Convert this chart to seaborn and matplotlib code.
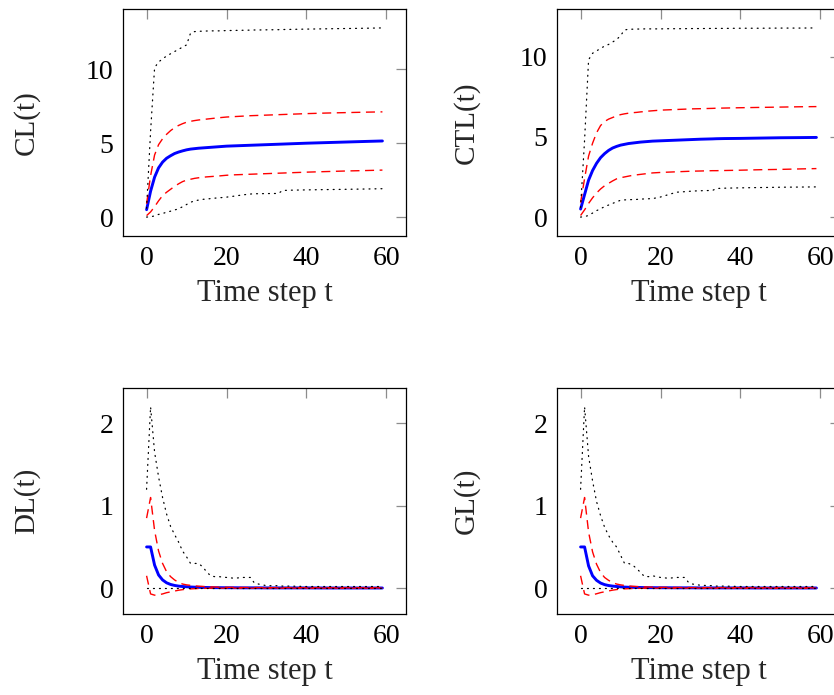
import matplotlib
matplotlib.use("Agg")
import matplotlib.pyplot as plt
import seaborn as sns
import numpy as np
import pandas as pd

# ---------------- data ----------------
TIME = [0, 1, 2, 3, 4, 5, 6, 7, 8, 9, 10, 11, 12, 13, 14, 15, 16, 17, 18,
        20, 22, 24, 26, 27, 28, 30, 33, 34, 36, 40, 45, 50, 55, 59]

cl_mean = [0.5, 1.75, 2.7, 3.33, 3.72, 3.98, 4.15, 4.3, 4.4, 4.48, 4.55, 4.6, 4.63, 4.66,
           4.68, 4.7, 4.72, 4.74, 4.76, 4.8, 4.82, 4.84, 4.86, 4.87, 4.88, 4.9, 4.93, 4.94,
           4.96, 5.0, 5.04, 5.08, 5.12, 5.15]
cl_hi = [0.9, 2.8, 4.2, 4.9, 5.3, 5.6, 5.85, 6.05, 6.2, 6.32, 6.42, 6.48, 6.53, 6.57, 6.6,
         6.63, 6.66, 6.69, 6.72, 6.77, 6.8, 6.83, 6.86, 6.87, 6.88, 6.9, 6.93, 6.94, 6.96,
         7.0, 7.04, 7.07, 7.1, 7.12]
cl_lo = [0.1, 0.35, 0.7, 1.1, 1.45, 1.68, 1.88, 2.08, 2.25, 2.4, 2.5, 2.56, 2.62, 2.66, 2.69,
         2.72, 2.74, 2.76, 2.78, 2.83, 2.86, 2.88, 2.9, 2.91, 2.92, 2.94, 2.97, 2.98, 3.0,
         3.04, 3.08, 3.12, 3.15, 3.18]
cl_max = [0.6, 5.8, 10.1, 10.5, 10.7, 10.9, 11.05, 11.2, 11.35, 11.5, 11.65, 12.45, 12.55,
          12.57, 12.58, 12.59, 12.6, 12.6, 12.6, 12.62, 12.63, 12.64, 12.65, 12.66, 12.66,
          12.67, 12.68, 12.69, 12.7, 12.72, 12.74, 12.76, 12.78, 12.8]
cl_min = [0.0, 0.02, 0.08, 0.18, 0.25, 0.32, 0.4, 0.48, 0.56, 0.7, 0.85, 1.0, 1.1, 1.15, 1.2,
          1.22, 1.25, 1.28, 1.3, 1.35, 1.42, 1.5, 1.56, 1.58, 1.58, 1.59, 1.6, 1.8, 1.82,
          1.84, 1.86, 1.88, 1.9, 1.92]

ctl_mean = [0.5, 1.4, 2.3, 2.9, 3.35, 3.7, 3.95, 4.15, 4.3, 4.4, 4.48, 4.53, 4.58, 4.61, 4.64,
            4.67, 4.69, 4.71, 4.73, 4.75, 4.77, 4.79, 4.81, 4.82, 4.83, 4.85, 4.87, 4.88,
            4.89, 4.9, 4.92, 4.94, 4.95, 4.96]
ctl_hi = [0.9, 2.4, 3.8, 4.6, 5.25, 5.7, 5.95, 6.1, 6.2, 6.3, 6.38, 6.43, 6.47, 6.5, 6.52,
          6.55, 6.57, 6.6, 6.62, 6.66, 6.68, 6.7, 6.72, 6.73, 6.74, 6.75, 6.77, 6.78, 6.79,
          6.81, 6.83, 6.85, 6.87, 6.88]
ctl_lo = [0.1, 0.45, 0.85, 1.2, 1.5, 1.75, 1.95, 2.1, 2.25, 2.38, 2.45, 2.5, 2.55, 2.6, 2.63,
          2.66, 2.69, 2.72, 2.75, 2.78, 2.8, 2.82, 2.84, 2.85, 2.86, 2.87, 2.89, 2.89, 2.9,
          2.92, 2.95, 2.97, 3.0, 3.02]
ctl_max = [0.6, 4.8, 9.8, 10.2, 10.35, 10.5, 10.65, 10.75, 10.9, 11.05, 11.3, 11.65, 11.7,
           11.7, 11.71, 11.71, 11.72, 11.72, 11.72, 11.72, 11.73, 11.73, 11.73, 11.74, 11.74,
           11.74, 11.75, 11.75, 11.75, 11.76, 11.76, 11.77, 11.77, 11.78]
ctl_min = [0.0, 0.03, 0.1, 0.25, 0.4, 0.52, 0.65, 0.75, 0.85, 0.95, 1.05, 1.07, 1.08, 1.09,
           1.1, 1.12, 1.13, 1.14, 1.15, 1.25, 1.4, 1.55, 1.58, 1.6, 1.62, 1.64, 1.66, 1.78,
           1.8, 1.82, 1.84, 1.86, 1.87, 1.88]

dl_mean = [0.5, 0.5, 0.28, 0.16, 0.1, 0.065, 0.045, 0.033, 0.025, 0.02, 0.017, 0.014, 0.012,
           0.01, 0.009, 0.008, 0.007, 0.006, 0.006, 0.005, 0.005, 0.004, 0.004, 0.004, 0.004,
           0.003, 0.003, 0.003, 0.003, 0.003, 0.002, 0.002, 0.002, 0.002]
dl_hi = [0.85, 1.1, 0.7, 0.45, 0.3, 0.2, 0.14, 0.1, 0.07, 0.05, 0.04, 0.034, 0.028, 0.024,
         0.021, 0.018, 0.016, 0.014, 0.012, 0.01, 0.009, 0.008, 0.007, 0.007, 0.006, 0.006,
         0.005, 0.005, 0.005, 0.005, 0.004, 0.004, 0.004, 0.004]
dl_lo = [0.15, -0.07, -0.085, -0.08, -0.07, -0.055, -0.045, -0.035, -0.025, -0.018, -0.012,
         -0.009, -0.006, -0.004, -0.003, -0.002, -0.001, -0.001, 0.0, 0.0, 0.0, 0.0, 0.0, 0.0,
         0.0, 0.0, 0.0, 0.0, 0.0, 0.0, 0.0, 0.0, 0.0, 0.0]
dl_max = [1.2, 2.2, 1.65, 1.35, 1.1, 0.9, 0.75, 0.65, 0.56, 0.45, 0.38, 0.3, 0.3, 0.3, 0.26,
          0.2, 0.15, 0.14, 0.14, 0.13, 0.12, 0.13, 0.13, 0.06, 0.05, 0.03, 0.03, 0.025, 0.025,
          0.02, 0.02, 0.02, 0.02, 0.02]
dl_min = [0.0] * len(TIME)

gl_mean = [0.5, 0.5, 0.27, 0.15, 0.095, 0.062, 0.043, 0.032, 0.025, 0.02, 0.016, 0.013,
           0.011, 0.01, 0.009, 0.008, 0.007, 0.006, 0.006, 0.005, 0.005, 0.004, 0.004, 0.004,
           0.004, 0.003, 0.003, 0.003, 0.003, 0.003, 0.002, 0.002, 0.002, 0.002]
gl_hi = [0.85, 1.1, 0.68, 0.44, 0.29, 0.19, 0.13, 0.095, 0.068, 0.05, 0.04, 0.033, 0.027,
         0.023, 0.02, 0.018, 0.016, 0.014, 0.012, 0.01, 0.009, 0.008, 0.007, 0.007, 0.006,
         0.006, 0.005, 0.005, 0.005, 0.005, 0.004, 0.004, 0.004, 0.004]
gl_lo = [0.15, -0.07, -0.085, -0.08, -0.068, -0.054, -0.044, -0.034, -0.024, -0.017, -0.011,
         -0.008, -0.006, -0.004, -0.003, -0.002, -0.001, -0.001, 0.0, 0.0, 0.0, 0.0, 0.0, 0.0,
         0.0, 0.0, 0.0, 0.0, 0.0, 0.0, 0.0, 0.0, 0.0, 0.0]
gl_max = [1.2, 2.2, 1.6, 1.3, 1.05, 0.88, 0.74, 0.64, 0.56, 0.5, 0.4, 0.3, 0.3, 0.28, 0.24,
          0.19, 0.14, 0.14, 0.15, 0.13, 0.12, 0.13, 0.13, 0.07, 0.05, 0.035, 0.03, 0.025,
          0.025, 0.02, 0.02, 0.02, 0.02, 0.02]
gl_min = [0.0] * len(TIME)

PANELS = [
    ("CL(t)", cl_mean, cl_hi, cl_lo, cl_max, cl_min, [0, 5, 10]),
    ("CTL(t)", ctl_mean, ctl_hi, ctl_lo, ctl_max, ctl_min, [0, 5, 10]),
    ("DL(t)", dl_mean, dl_hi, dl_lo, dl_max, dl_min, [0, 1, 2]),
    ("GL(t)", gl_mean, gl_hi, gl_lo, gl_max, gl_min, [0, 1, 2]),
]
XTICKS = [0, 20, 40, 60]
XLABEL = "Time step t"

# ---------------- style ----------------
sns.set_theme(style="white")
plt.rcParams["font.family"] = ["Liberation Serif", "DejaVu Serif"]
plt.rcParams["lines.scale_dashes"] = False
plt.rcParams["axes.edgecolor"] = "black"
plt.rcParams["axes.linewidth"] = 0.8

W, H = 834, 695
fig = plt.figure(figsize=(W / 100, H / 100), dpi=100)

# axes boxes in pixels: (left, top, right, bottom)
boxes = [(123, 9, 406, 236), (557, 9, 840, 236),
         (123, 388, 406, 614), (557, 388, 840, 614)]
label_x = [-0.293, -0.272, -0.293, -0.272]

for i, (name, mean, hi, lo, mx, mn, yt) in enumerate(PANELS):
    l, t, r, b = boxes[i]
    ax = fig.add_axes([l / W, 1 - b / H, (r - l) / W, (b - t) / H])
    df = pd.DataFrame({"t": TIME, "mean": mean, "hi": hi, "lo": lo, "max": mx, "min": mn})
    sns.lineplot(data=df, x="t", y="mean", ax=ax, color="blue", linewidth=2.1)
    for col in ["hi", "lo"]:
        sns.lineplot(data=df, x="t", y=col, ax=ax, color="red", linewidth=1.0,
                     linestyle=(0, (6.5, 4.0)))
    for col in ["max", "min"]:
        sns.lineplot(data=df, x="t", y=col, ax=ax, color="black", linewidth=0.9,
                     linestyle=(0, (0.7, 3.6)), dash_capstyle="round")

    allv = np.concatenate([mean, hi, lo, mx, mn])
    lo_v, hi_v = allv.min(), allv.max()
    pad = 0.1 * (hi_v - lo_v)
    ax.set_ylim(lo_v - pad, hi_v + pad)
    ax.set_xlim(-5.9, 64.9)
    ax.set_xticks(XTICKS)
    ax.set_yticks(yt)
    ax.tick_params(direction="in", length=7, width=0.9, color="#8c8c8c",
                   top=True, right=True, labelsize=20, pad=7, labelcolor="black")
    ax.set_xlabel(XLABEL, fontsize=22, labelpad=6)
    ax.set_ylabel(name, fontsize=21)
    ax.yaxis.set_label_coords(label_x[i], 0.5)
    for s in ax.spines.values():
        s.set_color("black")
        s.set_linewidth(0.9)

fig.savefig("out.png", dpi=100)
